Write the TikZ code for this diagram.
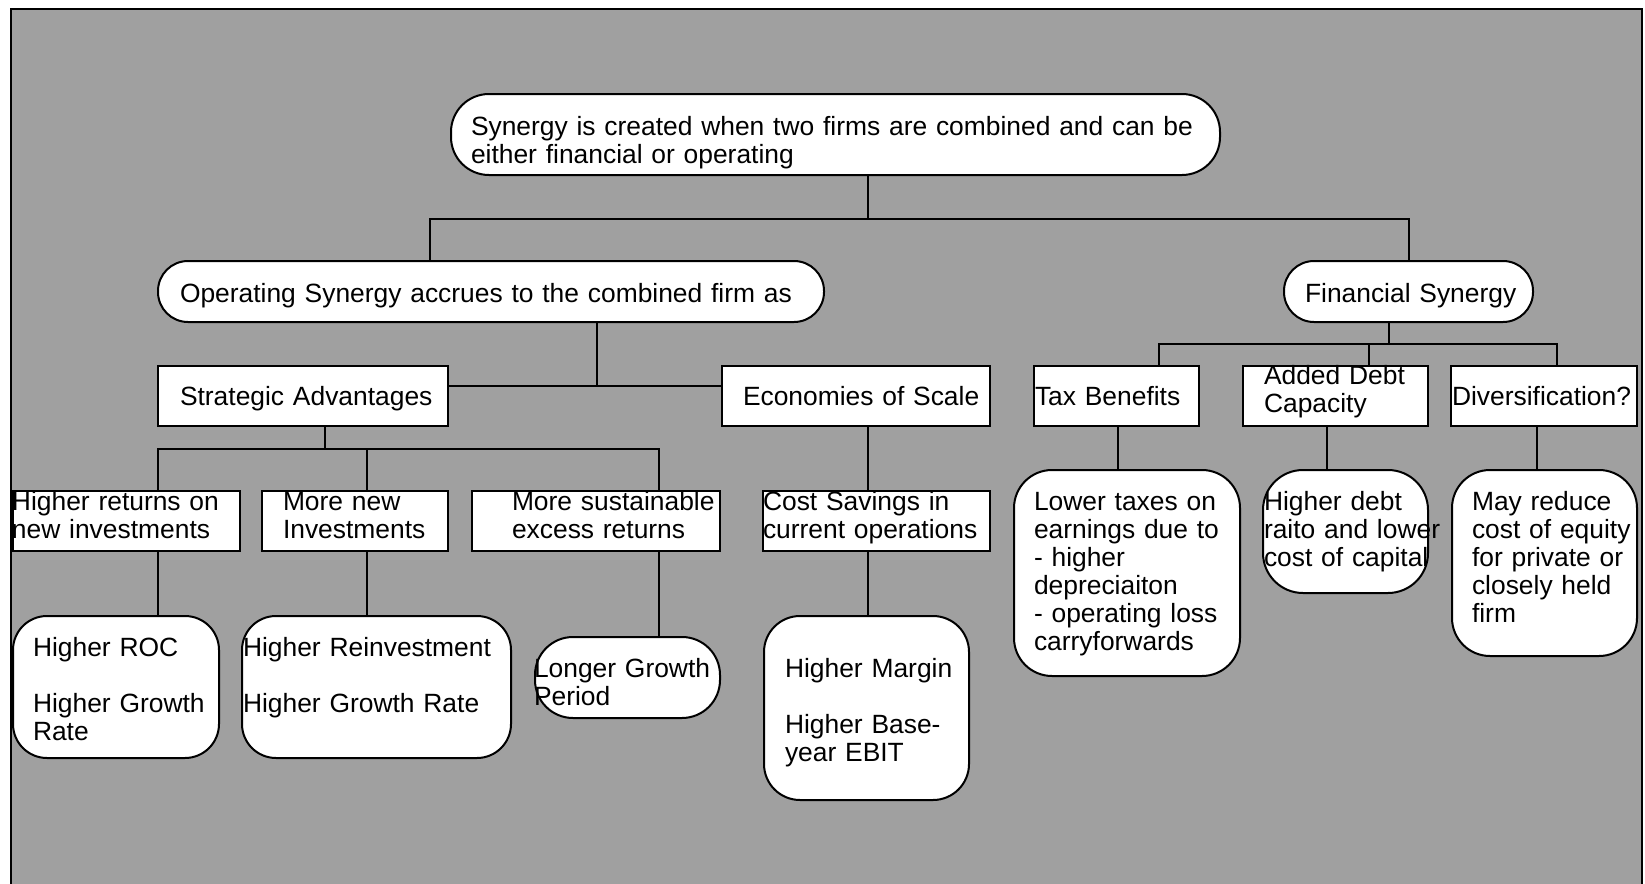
\documentclass[tikz,border=0pt]{standalone}
\usepackage{fontspec}
\setmainfont{Liberation Sans}
\definecolor{bggray}{RGB}{160,160,160}
\begin{document}
\begin{tikzpicture}[x=1pt,y=-1pt,line width=2pt,
  sq/.style={draw=black,fill=white,inner sep=0pt,line width=2pt},
  rd/.style={sq,rounded corners=#1},
  txt/.style={inner sep=0pt,anchor=base west,text width=800pt,align=left,
    font=\fontsize{26.4}{28}\selectfont},
  conn/.style={draw=black,line width=2pt}]
\useasboundingbox (0,0) rectangle (1645,883);
\path[draw=black,line width=1.5pt,fill=bggray] (11,9) rectangle (1642,895);

% ---- boxes ----
\node[rd=38pt,minimum width=769pt,minimum height=81pt] (top) at (835.5,134.5) {};
\node[rd=30pt,minimum width=666pt,minimum height=61pt] (op) at (491,291.5) {};
\node[rd=30pt,minimum width=249pt,minimum height=61pt] (fs) at (1408.5,291.5) {};

\node[sq,minimum width=290pt,minimum height=60pt] (sa) at (303,396) {};
\node[sq,minimum width=268pt,minimum height=60pt] (es) at (856,396) {};
\node[sq,minimum width=165pt,minimum height=60pt] (tb) at (1116.5,396) {};
\node[sq,minimum width=185pt,minimum height=60pt] (ad) at (1335.5,396) {};
\node[sq,minimum width=186pt,minimum height=60pt] (dv) at (1544,396) {};

\node[sq,minimum width=227pt,minimum height=60pt] (hr) at (126.5,521) {};
\node[sq,minimum width=186pt,minimum height=60pt] (mn) at (355,521) {};
\node[sq,minimum width=248pt,minimum height=60pt] (ms) at (596,521) {};
\node[sq,minimum width=227pt,minimum height=60pt] (cs) at (876.5,521) {};

\node[rd=34pt,minimum width=206pt,minimum height=142pt] (roc) at (116,687) {};
\node[rd=34pt,minimum width=269pt,minimum height=142pt] (rei) at (376.5,687) {};
\node[rd=38pt,minimum width=185pt,minimum height=81pt] (lg) at (627.5,677.5) {};
\node[rd=36pt,minimum width=205pt,minimum height=184pt] (hm) at (866.5,708) {};
\node[rd=38pt,minimum width=226pt,minimum height=206pt] (tx) at (1127,573) {};
\node[rd=40pt,minimum width=165pt,minimum height=123pt] (dbt) at (1345.5,531.5) {};
\node[rd=38pt,minimum width=185pt,minimum height=186pt] (dvr) at (1544.5,563) {};

% ---- junction coordinates ----
\coordinate (j1) at (868,219);
\coordinate (b1) at (430,219);
\coordinate (b2) at (1409,219);
\coordinate (j2) at (597,386);
\coordinate (j3) at (325,449);
\coordinate (c3a) at (158,449);
\coordinate (c3b) at (367,449);
\coordinate (c3c) at (659,449);
\coordinate (xe) at (868,0);
\coordinate (j4) at (1389,344);
\coordinate (c4a) at (1159,344);
\coordinate (c4b) at (1369,344);
\coordinate (c4c) at (1557,344);
\coordinate (xt) at (1118,0);
\coordinate (xd) at (1327,0);
\coordinate (xv) at (1537,0);

% ---- connectors ----
\draw[conn] (top.south -| j1) -- (j1);
\draw[conn] (op.north -| b1) -- (b1) -- (b2) -- (fs.north -| b2);
\draw[conn] (op.south -| j2) -- (j2);
\draw[conn] (sa.east |- j2) -- (es.west |- j2);
\draw[conn] (sa.south -| j3) -- (j3);
\draw[conn] (hr.north -| c3a) -- (c3a) -- (c3c) -- (ms.north -| c3c);
\draw[conn] (mn.north -| c3b) -- (c3b);
\draw[conn] (hr.south -| c3a) -- (roc.north -| c3a);
\draw[conn] (mn.south -| c3b) -- (rei.north -| c3b);
\draw[conn] (ms.south -| c3c) -- (lg.north -| c3c);
\draw[conn] (es.south -| xe) -- (cs.north -| xe);
\draw[conn] (cs.south -| xe) -- (hm.north -| xe);
\draw[conn] (fs.south -| j4) -- (j4);
\draw[conn] (tb.north -| c4a) -- (c4a) -- (c4c) -- (dv.north -| c4c);
\draw[conn] (ad.north -| c4b) -- (c4b);
\draw[conn] (tb.south -| xt) -- (tx.north -| xt);
\draw[conn] (ad.south -| xd) -- (dbt.north -| xd);
\draw[conn] (dv.south -| xv) -- (dvr.north -| xv);

% ---- texts ----
\node[txt] (top-t) at (470,135) {Synergy is created when two firms are combined and can be\\either financial or operating};
\node[txt] (op-t) at (179,302) {Operating Synergy accrues to the combined firm as};
\node[txt] (fs-t) at (1304,302) {Financial Synergy};
\node[txt] (sa-t) at (179,405) {Strategic Advantages};
\node[txt] (es-t) at (742,405) {Economies of Scale};
\node[txt] (tb-t) at (1034,405) {Tax Benefits};
\node[txt] (ad-t) at (1263,384) {Added Debt\\Capacity};
\node[txt] (dv-t) at (1451,405) {Diversification?};
\node[txt] (hr-t) at (11,510) {Higher returns on\\new investments};
\node[txt] (mn-t) at (282,510) {More new\\Investments};
\node[txt] (ms-t) at (511,510) {More sustainable\\excess returns};
\node[txt] (cs-t) at (762,510) {Cost Savings in\\current operations};
\node[txt] (roc-t) at (32,656) {Higher ROC\\[28pt]Higher Growth\\Rate};
\node[txt] (rei-t) at (242,656) {Higher Reinvestment\\[28pt]Higher Growth Rate};
\node[txt] (lg-t) at (533,677) {Longer Growth\\Period};
\node[txt] (hm-t) at (784,677) {Higher Margin\\[28pt]Higher Base-\\year EBIT};
\node[txt] (tx-t) at (1033,510) {Lower taxes on\\earnings due to\\- higher\\depreciaiton\\- operating loss\\carryforwards};
\node[txt] (dbt-t) at (1263,510) {Higher debt\\raito and lower\\cost of capital};
\node[txt] (dvr-t) at (1471,510) {May reduce\\cost of equity\\for private or\\closely held\\firm};
\end{tikzpicture}
\end{document}
